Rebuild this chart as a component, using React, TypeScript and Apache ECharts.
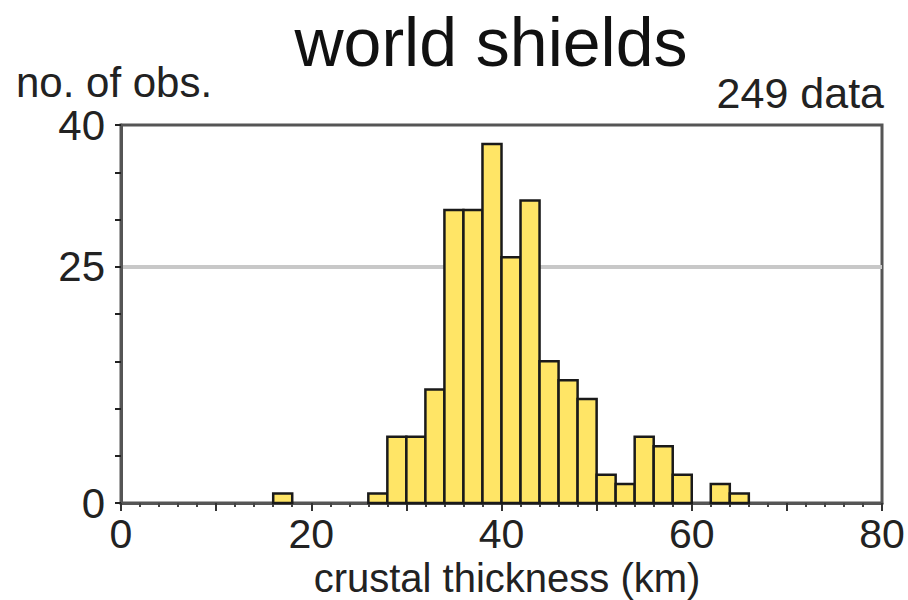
import React, { useEffect, useRef } from "react";
import * as echarts from "echarts";

const titleText = "world shields";
const yAxisTitle = "no. of obs.";
const countText = "249 data";
const xAxisTitle = "crustal thickness (km)";

const binWidth = 2;
const binStarts = [
  0, 2, 4, 6, 8, 10, 12, 14, 16, 18, 20, 22, 24, 26, 28, 30, 32, 34, 36, 38,
  40, 42, 44, 46, 48, 50, 52, 54, 56, 58, 60, 62, 64, 66, 68, 70, 72, 74, 76, 78,
];
const counts = [
  0, 0, 0, 0, 0, 0, 0, 0, 1, 0, 0, 0, 0, 1, 7, 7, 12, 31, 31, 38,
  26, 32, 15, 13, 11, 3, 2, 7, 6, 3, 0, 2, 1, 0, 0, 0, 0, 0, 0, 0,
];
const xLabels = [0, 20, 40, 60, 80];
const yLabels = [0, 25, 40];
const refLine = 25;

const FONT = "'Liberation Sans', Arial, Helvetica, sans-serif";

export default function App() {
  const ref = useRef<HTMLDivElement>(null);
  useEffect(() => {
    if (!ref.current) return;
    const chart = echarts.init(ref.current, undefined, { renderer: "svg" });
    const data = binStarts
      .map((s, i) => [s, s + binWidth, counts[i]])
      .filter((d) => d[2] > 0);
    const splitColors = [0, 5, 10, 15, 20, 25, 30, 35, 40].map((v) =>
      v === refLine ? "#c8c8c8" : "rgba(0,0,0,0)"
    );
    chart.setOption({
      animation: false,
      backgroundColor: "#ffffff",
      grid: {
        left: 121,
        right: 26,
        top: 125,
        bottom: 97,
        show: true,
        borderColor: "#555555",
        borderWidth: 3,
        backgroundColor: "transparent",
      },
      xAxis: {
        type: "value",
        min: 0,
        max: 80,
        interval: 10,
        axisLine: { show: true, onZero: false, lineStyle: { color: "#555555", width: 3 } },
        axisTick: { show: true, length: 8, lineStyle: { color: "#333333", width: 2 } },
        minorTick: { show: true, splitNumber: 5, length: 4, lineStyle: { color: "#444444", width: 2 } },
        splitLine: { show: false },
        axisLabel: {
          margin: 10,
          fontFamily: FONT,
          fontSize: 41,
          color: "#222222",
          formatter: (v: number) => (xLabels.indexOf(v) >= 0 ? String(v) : ""),
        },
      },
      yAxis: {
        type: "value",
        min: 0,
        max: 40,
        interval: 5,
        axisLine: { show: true, lineStyle: { color: "#555555", width: 3 } },
        axisTick: { show: true, length: 6, lineStyle: { color: "#222222", width: 2 } },
        splitLine: { show: true, lineStyle: { color: splitColors, width: 4 } },
        axisLabel: {
          margin: 16,
          fontFamily: FONT,
          fontSize: 42,
          color: "#222222",
          formatter: (v: number) => (yLabels.indexOf(v) >= 0 ? String(v) : ""),
        },
      },
      graphic: [
        {
          type: "text",
          x: 491,
          y: 42,
          style: {
            text: titleText,
            font: `68px ${FONT}`,
            fill: "#111111",
            textAlign: "center",
            textVerticalAlign: "middle",
          },
        },
        {
          type: "text",
          x: 16,
          y: 82,
          style: {
            text: yAxisTitle,
            font: `42px ${FONT}`,
            fill: "#222222",
            textAlign: "left",
            textVerticalAlign: "middle",
          },
        },
        {
          type: "text",
          x: 884,
          y: 93,
          style: {
            text: countText,
            font: `43px ${FONT}`,
            fill: "#222222",
            textAlign: "right",
            textVerticalAlign: "middle",
          },
        },
        {
          type: "text",
          x: 507,
          y: 578,
          style: {
            text: xAxisTitle,
            font: `40px ${FONT}`,
            fill: "#222222",
            textAlign: "center",
            textVerticalAlign: "middle",
          },
        },
      ],
      series: [
        {
          type: "custom",
          z: 3,
          encode: { x: [0, 1], y: 2 },
          data,
          renderItem: (params: any, api: any) => {
            const x0 = api.value(0);
            const x1 = api.value(1);
            const c = api.value(2);
            const p0 = api.coord([x0, c]);
            const p1 = api.coord([x1, 0]);
            return {
              type: "rect",
              shape: { x: p0[0], y: p0[1], width: p1[0] - p0[0], height: p1[1] - p0[1] },
              style: { fill: "#ffe566", stroke: "#1a1a1a", lineWidth: 2.5 },
            };
          },
        },
      ],
    });
    return () => chart.dispose();
  }, []);
  return <div ref={ref} style={{ width: 908, height: 600, position: "absolute", left: 0, top: 0 }} />;
}
